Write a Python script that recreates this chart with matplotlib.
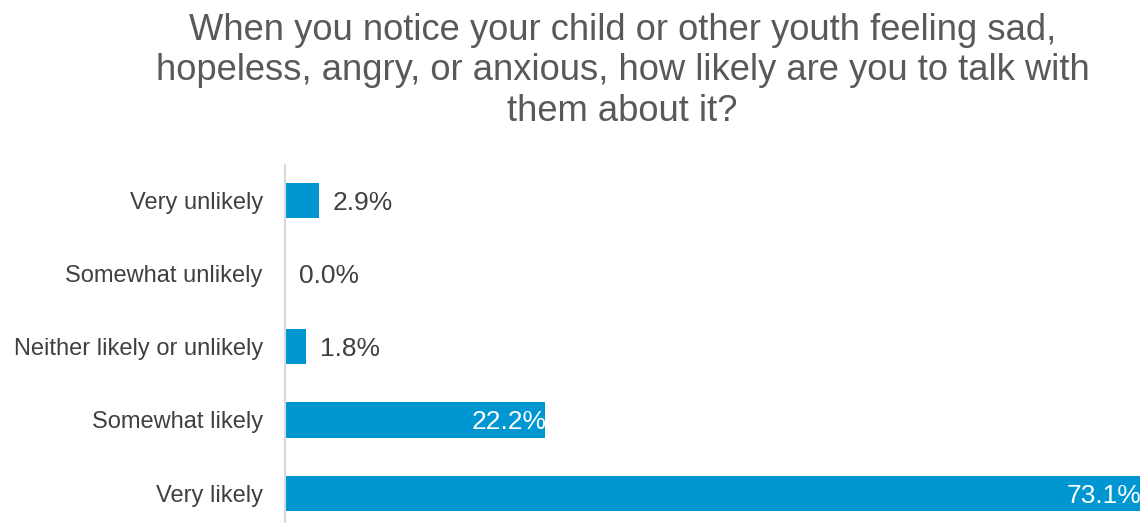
import matplotlib.pyplot as plt

categories = ['Very unlikely', 'Somewhat unlikely', 'Neither likely or unlikely',
              'Somewhat likely', 'Very likely']
values = [2.9, 0.0, 1.8, 22.2, 73.1]

plt.rcParams['font.family'] = ['Liberation Sans', 'DejaVu Sans']

fig = plt.figure(figsize=(11.4, 5.23), dpi=100)
ax = fig.add_axes([285 / 1140, 0, 1 - 285 / 1140, 1 - 165 / 523])

pos = list(range(len(categories)))
ax.barh(pos, values, height=0.48, color='#0096D2')
ax.set_xlim(0, 73.1)
ax.set_ylim(4.41, -0.49)

for y, v in zip(pos, values):
    if v > 10:
        ax.text(v + 0.15, y, f'{v:.1f}%', ha='right', va='center_baseline', color='white', fontsize=19)
    else:
        ax.text(v + 1.2, y, f'{v:.1f}%', ha='left', va='center_baseline', color='#404040', fontsize=19)

ax.set_yticks(pos)
ax.set_yticklabels(categories, fontsize=17, color='#404040')
ax.tick_params(axis='y', length=0, pad=16)
ax.set_xticks([])
for s in ['top', 'right', 'bottom']:
    ax.spines[s].set_visible(False)
ax.spines['left'].set_color('#D9D9D9')
ax.spines['left'].set_linewidth(1.5)

fig.text(0.546, 0.975,
         'When you notice your child or other youth feeling sad,\n'
         'hopeless, angry, or anxious, how likely are you to talk with\n'
         'them about it?',
         ha='center', va='top', fontsize=26.2, color='#595959', linespacing=1.2)

fig.savefig('out.png', dpi=100)
